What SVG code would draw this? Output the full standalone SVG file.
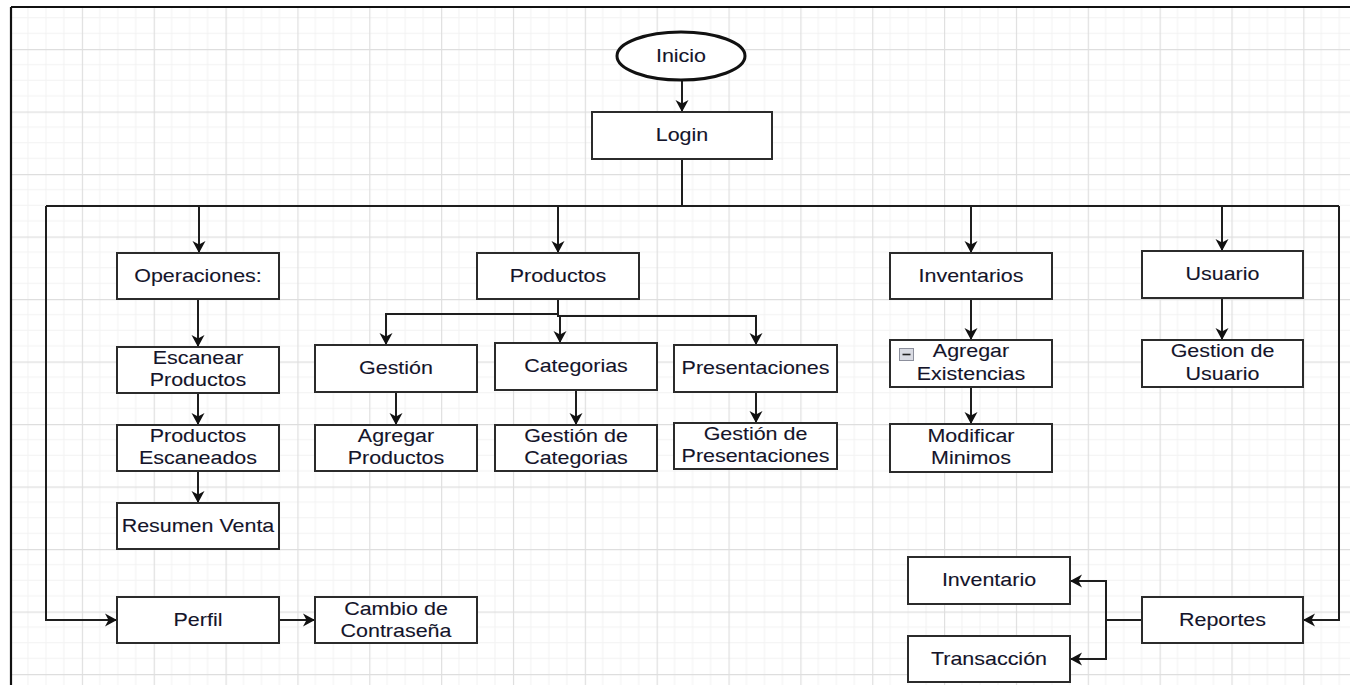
<svg xmlns="http://www.w3.org/2000/svg" width="1350" height="685" viewBox="0 0 1350 685">
<defs>
<pattern id="grid" patternUnits="userSpaceOnUse" x="10" y="-13.5" width="71.85" height="62.5">
<path d="M17.96,0V62.5M35.93,0V62.5M53.89,0V62.5M0,15.625H71.85M0,31.25H71.85M0,46.875H71.85" stroke="#f2f2f2" stroke-width="1" fill="none"/>
<path d="M0.5,0V62.5M0,0.5H71.85" stroke="#dedede" stroke-width="1.3" fill="none"/>
</pattern>
<marker id="arr" markerUnits="userSpaceOnUse" markerWidth="14" markerHeight="14" refX="12" refY="6.5" orient="auto" overflow="visible">
<path d="M12,6.5 L0,0 L3.5,6.5 L0,13 Z" fill="#111"/>
</marker>
<style>
.box{fill:#fff;stroke:#2b2b2b;stroke-width:2}
.edge{fill:none;stroke:#1e1e1e;stroke-width:2;marker-end:url(#arr)}
.line{fill:none;stroke:#1e1e1e;stroke-width:2}
.t{font-family:"Liberation Sans",Arial,sans-serif;font-size:18.5px;fill:#14142a;stroke:#14142a;stroke-width:0.1;text-anchor:middle}
</style>
</defs>
<rect x="0" y="0" width="1350" height="685" fill="#fff"/>
<rect x="11" y="7" width="1339" height="678" fill="url(#grid)"/>
<path d="M11,7H1350M11,7V685" stroke="#111" stroke-width="2.2" fill="none"/>

<g id="connectors">
<path class="edge" d="M682,80V112"/>
<path class="line" d="M682,159V206"/>
<path class="line" d="M46,206H1339"/>
<path class="edge" d="M199,206V253"/>
<path class="edge" d="M558,206V253"/>
<path class="edge" d="M971,206V253"/>
<path class="edge" d="M1222,206V251"/>
<path class="edge" d="M46,206V620H117"/>
<path class="edge" d="M1339,206V620H1303"/>
<path class="edge" d="M198,299V347"/>
<path class="edge" d="M198,393V425"/>
<path class="edge" d="M198,471V503"/>
<path class="edge" d="M279,620H315"/>
<path class="edge" d="M558,299V314H386V345"/>
<path class="edge" d="M558,299V316H560V343"/>
<path class="edge" d="M558,316H756V345"/>
<path class="edge" d="M396,392V425"/>
<path class="edge" d="M576,390V425"/>
<path class="edge" d="M756,392V423"/>
<path class="edge" d="M971,299V340"/>
<path class="edge" d="M971,387V424"/>
<path class="edge" d="M1222,298V340"/>
<path class="edge" d="M1142,620H1106V581H1070"/>
<path class="edge" d="M1106,620V659H1070"/>
</g>

<g id="inicio"><ellipse cx="681" cy="56" rx="64" ry="24" fill="#fff" stroke="#111" stroke-width="3"/></g>
<g id="login"><rect class="box" x="592" y="112" width="180" height="47"/></g>
<g id="operaciones"><rect class="box" x="117" y="253" width="162" height="46"/></g>
<g id="escanear"><rect class="box" x="117" y="347" width="162" height="46"/></g>
<g id="escaneados"><rect class="box" x="117" y="425" width="162" height="46"/></g>
<g id="resumen"><rect class="box" x="117" y="503" width="162" height="46"/></g>
<g id="perfil"><rect class="box" x="117" y="597" width="162" height="46"/></g>
<g id="cambio"><rect class="box" x="315" y="597" width="162" height="46"/></g>
<g id="productos"><rect class="box" x="477" y="253" width="162" height="46"/></g>
<g id="gestion"><rect class="box" x="315" y="345" width="162" height="47"/></g>
<g id="categorias"><rect class="box" x="495" y="343" width="162" height="47"/></g>
<g id="presentaciones"><rect class="box" x="674" y="345" width="163" height="47"/></g>
<g id="agregarprod"><rect class="box" x="315" y="425" width="162" height="46"/></g>
<g id="gestioncat"><rect class="box" x="495" y="425" width="162" height="46"/></g>
<g id="gestionpres"><rect class="box" x="674" y="423" width="163" height="46"/></g>
<g id="inventarios"><rect class="box" x="890" y="253" width="162" height="46"/></g>
<g id="existencias"><rect class="box" x="890" y="340" width="162" height="47"/>
<rect x="899.5" y="348.5" width="14" height="12" fill="#d9dbe3" stroke="#8c8f9c" stroke-width="1"/>
<path d="M902.5,354.5H910.5" stroke="#222" stroke-width="1.6"/></g>
<g id="minimos"><rect class="box" x="890" y="424" width="162" height="48"/></g>
<g id="usuario"><rect class="box" x="1142" y="251" width="161" height="47"/></g>
<g id="gestionusuario"><rect class="box" x="1142" y="340" width="161" height="47"/></g>
<g id="reportes"><rect class="box" x="1142" y="597" width="161" height="46"/></g>
<g id="inventario"><rect class="box" x="908" y="557" width="162" height="47"/></g>
<g id="transaccion"><rect class="box" x="908" y="636" width="162" height="46"/></g>

<g id="labels" transform="scale(1.16 1)">
<text class="t" x="587.07" y="62">Inicio</text>
<text class="t" x="587.93" y="141.5">Login</text>
<text class="t" x="170.69" y="282.5">Operaciones:</text>
<text class="t" x="170.69" y="364">Escanear</text>
<text class="t" x="170.69" y="386.5">Productos</text>
<text class="t" x="170.69" y="442">Productos</text>
<text class="t" x="170.69" y="464.5">Escaneados</text>
<text class="t" x="170.69" y="532">Resumen Venta</text>
<text class="t" x="170.69" y="626">Perfil</text>
<text class="t" x="341.38" y="615">Cambio de</text>
<text class="t" x="341.38" y="637.5">Contraseña</text>
<text class="t" x="481.03" y="282">Productos</text>
<text class="t" x="341.38" y="374.5">Gestión</text>
<text class="t" x="496.55" y="372.5">Categorias</text>
<text class="t" x="651.29" y="374.5">Presentaciones</text>
<text class="t" x="341.38" y="442">Agregar</text>
<text class="t" x="341.38" y="464.5">Productos</text>
<text class="t" x="496.55" y="442">Gestión de</text>
<text class="t" x="496.55" y="464.5">Categorias</text>
<text class="t" x="651.29" y="440">Gestión de</text>
<text class="t" x="651.29" y="462.5">Presentaciones</text>
<text class="t" x="837.07" y="282">Inventarios</text>
<text class="t" x="837.07" y="357.5">Agregar</text>
<text class="t" x="837.07" y="380">Existencias</text>
<text class="t" x="837.07" y="442">Modificar</text>
<text class="t" x="837.07" y="464.5">Minimos</text>
<text class="t" x="1053.88" y="280.5">Usuario</text>
<text class="t" x="1053.88" y="357.5">Gestion de</text>
<text class="t" x="1053.88" y="380">Usuario</text>
<text class="t" x="852.59" y="586.5">Inventario</text>
<text class="t" x="852.59" y="665">Transacción</text>
<text class="t" x="1053.88" y="626">Reportes</text>
</g>
</svg>
